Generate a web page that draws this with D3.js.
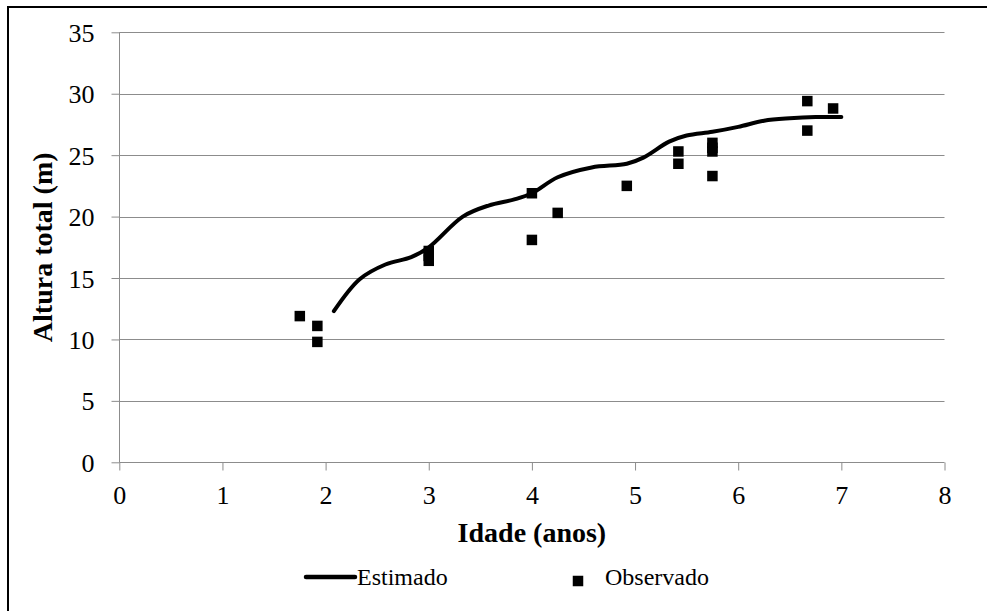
<!DOCTYPE html>
<html>
<head>
<meta charset="utf-8">
<script src="https://cdn.jsdelivr.net/npm/d3@7"></script>
<style>
html,body{margin:0;padding:0;background:#fff;}
svg{display:block;}
</style>
</head>
<body>
<svg id="chart" width="987" height="611"></svg>
<script>
// Observed data
const obsAge = [1.75, 1.92, 1.92, 3.0, 3.0, 3.0, 4.0, 4.0, 4.25, 4.92, 5.42, 5.42, 5.75, 5.75, 5.75, 5.75, 6.67, 6.67, 6.92];
const obsHeight = [11.9, 11.1, 9.8, 17.2, 16.8, 16.4, 21.9, 18.1, 20.3, 22.5, 25.3, 24.3, 26.0, 25.6, 25.3, 23.3, 29.4, 27.0, 28.8];
// Estimated curve
const estAge = [2.08, 2.33, 2.58, 2.83, 3.0, 3.33, 3.58, 3.83, 4.0, 4.25, 4.58, 4.92, 5.08, 5.33, 5.5, 5.75, 6.0, 6.25, 6.5, 6.75, 7.0];
const estHeight = [12.3, 14.9, 16.1, 16.7, 17.5, 20.0, 20.9, 21.4, 21.9, 23.2, 24.0, 24.3, 24.8, 26.1, 26.6, 26.9, 27.3, 27.8, 28.0, 28.1, 28.1];
const xTicks = [0, 1, 2, 3, 4, 5, 6, 7, 8];
const yTicks = [0, 5, 10, 15, 20, 25, 30, 35];
const xTitle = "Idade (anos)";
const yTitle = "Altura total (m)";
const legendLabels = ["Estimado", "Observado"];

(function () {
const FONT = '"Liberation Serif", "Times New Roman", "DejaVu Serif", serif';
const svg = d3.select("#chart");
const pL = 119.3, pR = 944.5, pT = 32.3, pB = 462.3;
const x = d3.scaleLinear().domain([0, 8]).range([pL, pR]);
const y = d3.scaleLinear().domain([0, 35]).range([pB, pT]);
const grey = "#8c8c8c";

// outer frame (cropped on right/bottom)
svg.append("rect").attr("x", 8).attr("y", 7).attr("width", 1000).attr("height", 700)
  .attr("fill", "none").attr("stroke", "#000").attr("stroke-width", 2);

// gridlines
svg.append("g").selectAll("line").data(yTicks.filter(d => d > 0)).join("line")
  .attr("x1", pL).attr("x2", pR)
  .attr("y1", d => Math.round(y(d)) + 0.5).attr("y2", d => Math.round(y(d)) + 0.5)
  .attr("stroke", grey).attr("stroke-width", 1);

// y axis
const yAxis = svg.append("g").attr("transform", `translate(${Math.round(pL)+0.5},0)`)
  .call(d3.axisLeft(y).tickValues(yTicks).tickSize(8).tickFormat(d3.format("d")));
yAxis.attr("font-family", null).attr("font-size", null);
yAxis.select(".domain").attr("stroke", grey).attr("d", `M0,${y(0)}V${y(35)}`);
yAxis.selectAll(".tick line").attr("stroke", grey);
yAxis.selectAll(".tick text").attr("x", -25).attr("dy", "0.35em")
  .style("font-family", FONT).style("font-size", "26px").attr("fill", "#000");

// x axis
const xAxis = svg.append("g").attr("transform", `translate(0,${Math.round(pB)+0.5})`)
  .call(d3.axisBottom(x).tickValues(xTicks).tickSize(8).tickFormat(d3.format("d")));
xAxis.attr("font-family", null).attr("font-size", null);
xAxis.select(".domain").attr("stroke", grey).attr("d", `M${pL},0H${pR}`);
xAxis.selectAll(".tick line").attr("stroke", grey);
xAxis.selectAll(".tick text").attr("y", 41).attr("dy", 0)
  .style("font-family", FONT).style("font-size", "26px").attr("fill", "#000");

// estimated line
const estData = estAge.map((a, i) => [a, estHeight[i]]);
const line = d3.line().x(d => x(d[0])).y(d => y(d[1])).curve(d3.curveCatmullRom.alpha(0.5));
svg.append("path").datum(estData).attr("d", line)
  .attr("fill", "none").attr("stroke", "#000").attr("stroke-width", 4).attr("stroke-linecap", "round");

// observed markers
const ms = 10.5;
svg.append("g").selectAll("rect").data(obsAge.map((a, i) => [a, obsHeight[i]])).join("rect")
  .attr("x", d => x(d[0]) - ms / 2).attr("y", d => y(d[1]) - ms / 2)
  .attr("width", ms).attr("height", ms).attr("fill", "#000");

// axis titles
svg.append("text").attr("x", (pL + pR) / 2).attr("y", 542)
  .attr("text-anchor", "middle").style("font-family", FONT).style("font-size", "28px")
  .style("font-weight", "bold").text(xTitle);
svg.append("text").attr("transform", `translate(52,${(pT + pB) / 2}) rotate(-90)`)
  .attr("text-anchor", "middle").style("font-family", FONT).style("font-size", "28px")
  .style("font-weight", "bold").text(yTitle);

// legend
const lg = svg.append("g");
lg.append("line").attr("x1", 306).attr("x2", 355).attr("y1", 577).attr("y2", 577)
  .attr("stroke", "#000").attr("stroke-width", 4.5).attr("stroke-linecap", "round");
lg.append("text").attr("x", 357).attr("y", 585).style("font-family", FONT).style("font-size", "24px").text(legendLabels[0]);
lg.append("rect").attr("x", 578 - ms / 2).attr("y", 581 - ms / 2).attr("width", ms).attr("height", ms).attr("fill", "#000");
lg.append("text").attr("x", 605).attr("y", 585).style("font-family", FONT).style("font-size", "24px").text(legendLabels[1]);
})();
</script>
</body>
</html>
